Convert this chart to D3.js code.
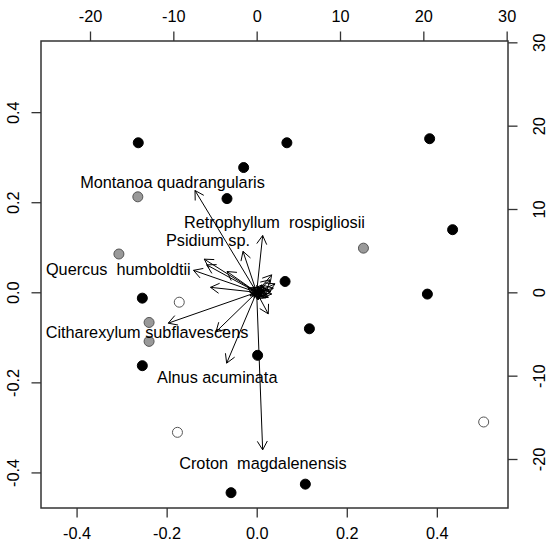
<!DOCTYPE html>
<html>
<head>
<meta charset="utf-8">
<script src="https://cdn.jsdelivr.net/npm/d3@7"></script>
<style>
  body { margin: 0; background: #fff; }
  text { font-family: "Liberation Sans", Arial, sans-serif; }
</style>
</head>
<body>
<div id="svg"></div>
<script>
// sites (bottom / left axes)
var siteX = [-0.263, -0.029, 0.067, 0.384, -0.066, 0.435, -0.254, 0.063, 0.379, 0.117, -0.254, 0.002, -0.057, 0.108,
             -0.264, -0.306, 0.237, -0.239, -0.239,
             -0.172, -0.176, 0.504];
var siteY = [0.332, 0.277, 0.332, 0.341, 0.208, 0.139, -0.013, 0.024, -0.004, -0.081, -0.163, -0.140, -0.445, -0.426,
             0.212, 0.085, 0.098, -0.067, -0.109,
             -0.022, -0.311, -0.288];
var siteGroup = ["black", "black", "black", "black", "black", "black", "black", "black", "black", "black", "black", "black", "black", "black",
                 "gray", "gray", "gray", "gray", "gray",
                 "white", "white", "white"];

// species arrows (top / right axes); the unnamed short ones pile up at the origin
var speciesNames = ["Montanoa quadrangularis", "Retrophyllum  rospigliosii", "Psidium sp.", "Quercus  humboldtii",
                    "", "", "", "", "Citharexylum subflavescens", "", "Alnus acuminata", "Croton  magdalenensis",
                    "", "", "", "", "", "", "", "", "",
                    "", "", "", "", "", "", "", "", "",
                    "", "", "", "", "", "", ""];
var speciesU = [-7.40, 0.72, -1.64, -7.58, -6.29, -6.00, -3.56, -5.54, -10.61, -4.88, -3.60, 0.72,
                1.39, 1.80, 2.20, 1.60, 1.12, -0.80, 0.64, -1.04, 0.16,
                1.50, 1.80, 1.00, 0.50, -0.30, 0.30, 1.20, 2.00, 0.90,
                1.40, 0.70, -0.50, 1.70, 0.20, 1.10, -0.20];
var speciesV = [12.22, 6.82, 4.92, 2.64, 3.98, 3.30, 2.50, 0.60, -3.70, -4.74, -8.50, -18.90,
                -2.58, 2.10, 1.02, 1.50, -0.66, -0.42, 0.90, 0.54, -0.90,
                0.30, -0.20, 0.20, 0.10, 0.20, -0.30, -0.30, 0.50, 0.70,
                -0.60, -0.50, -0.20, 0.10, 0.40, 0.50, -0.50];
var labelU = [-10.1, 2.14, -5.84, -16.6, null, null, null, null, -13.16, null, -4.73, 0.75];
var labelV = [13.2, 8.38, 6.22, 2.78, null, null, null, null, -4.82, null, -10.18, -20.46];

var lowerTicks = [-0.4, -0.2, 0.0, 0.2, 0.4];
var upperTicks = [-20, -10, 0, 10, 20, 30];

var width = 550, height = 552;
var boxLeft = 41, boxRight = 508, boxTop = 41, boxBottom = 508;

var svg = d3.select("#svg")
  .append("svg")
    .attr("width", width)
    .attr("height", height);

var x = d3.scaleLinear().domain([-0.479, 0.558]).range([boxLeft, boxRight]);
var y = d3.scaleLinear().domain([-0.479, 0.558]).range([boxBottom, boxTop]);
var u = d3.scaleLinear().domain([-25.88, 30.16]).range([boxLeft, boxRight]);
var v = d3.scaleLinear().domain([-25.88, 30.16]).range([boxBottom, boxTop]);

var axisColor = "#333";
var fontSize = "16.3px";

// R prints a plain hyphen, not the unicode minus d3 uses
var fmtLower = function(d) { return d3.format(".1f")(d).replace("\u2212", "-"); };
var fmtUpper = function(d) { return d3.format("d")(d).replace("\u2212", "-"); };

function styleAxis(g) {
  g.select(".domain").remove();
  g.selectAll(".tick line").attr("stroke", axisColor).attr("stroke-width", 1.3);
  g.selectAll(".tick text").attr("fill", "#000").style("font-size", fontSize);
  g.attr("font-family", null).attr("font-size", null);
}

svg.append("g")
    .attr("transform", "translate(0," + boxBottom + ")")
    .call(d3.axisBottom(x).tickValues(lowerTicks).tickFormat(fmtLower).tickSize(9.5).tickPadding(10))
    .call(styleAxis);

svg.append("g")
    .attr("transform", "translate(0," + boxTop + ")")
    .call(d3.axisTop(u).tickValues(upperTicks).tickFormat(fmtUpper).tickSize(9.5).tickPadding(10))
    .call(styleAxis);

var leftAxis = svg.append("g")
    .attr("transform", "translate(" + boxLeft + ",0)")
    .call(d3.axisLeft(y).tickValues(lowerTicks).tickFormat(fmtLower).tickSize(9.5))
    .call(styleAxis);
leftAxis.selectAll(".tick text")
    .attr("x", null).attr("dy", null)
    .attr("text-anchor", "middle")
    .attr("transform", "translate(-22.5,0) rotate(-90)");

var rightAxis = svg.append("g")
    .attr("transform", "translate(" + boxRight + ",0)")
    .call(d3.axisRight(v).tickValues(upperTicks).tickFormat(fmtUpper).tickSize(9.5))
    .call(styleAxis);
rightAxis.selectAll(".tick text")
    .attr("x", null).attr("dy", null)
    .attr("text-anchor", "middle")
    .attr("transform", "translate(37,0) rotate(-90)");

// plot box
svg.append("rect")
    .attr("x", boxLeft).attr("y", boxTop)
    .attr("width", boxRight - boxLeft).attr("height", boxBottom - boxTop)
    .attr("fill", "none")
    .attr("stroke", axisColor)
    .attr("stroke-width", 1.5);

// sites
var fills = {black: "#000", gray: "#999", white: "#fff"};
var strokes = {black: "#000", gray: "#555", white: "#555"};
svg.selectAll(".site")
    .data(d3.range(siteX.length))
  .enter()
    .append("circle")
    .attr("class", "site")
    .attr("cx", function(i) { return x(siteX[i]); })
    .attr("cy", function(i) { return y(siteY[i]); })
    .attr("r", 5)
    .attr("fill", function(i) { return fills[siteGroup[i]]; })
    .attr("stroke", function(i) { return strokes[siteGroup[i]]; })
    .attr("stroke-width", 1);

// arrows: shaft plus two open head strokes
var headLen = 10, headAng = Math.PI / 6;
var arrows = svg.selectAll(".arrow")
    .data(d3.range(speciesU.length))
  .enter()
    .append("g")
    .attr("class", "arrow");

arrows.append("path")
    .attr("fill", "none")
    .attr("stroke", "#000")
    .attr("stroke-width", 1)
    .attr("d", function(i) {
      var x0 = u(0), y0 = v(0), x1 = u(speciesU[i]), y1 = v(speciesV[i]);
      var a = Math.atan2(y1 - y0, x1 - x0);
      var p = d3.path();
      p.moveTo(x0, y0);
      p.lineTo(x1, y1);
      p.moveTo(x1 - headLen * Math.cos(a - headAng), y1 - headLen * Math.sin(a - headAng));
      p.lineTo(x1, y1);
      p.lineTo(x1 - headLen * Math.cos(a + headAng), y1 - headLen * Math.sin(a + headAng));
      return p.toString();
    });

// species labels
svg.selectAll(".splabel")
    .data(d3.range(speciesNames.length).filter(function(i) { return speciesNames[i] !== ""; }))
  .enter()
    .append("text")
    .attr("class", "splabel")
    .attr("x", function(i) { return u(labelU[i]); })
    .attr("y", function(i) { return v(labelV[i]); })
    .attr("dy", "0.35em")
    .attr("text-anchor", "middle")
    .style("font-size", fontSize)
    .style("white-space", "pre")
    .text(function(i) { return speciesNames[i]; });
</script>
</body>
</html>
